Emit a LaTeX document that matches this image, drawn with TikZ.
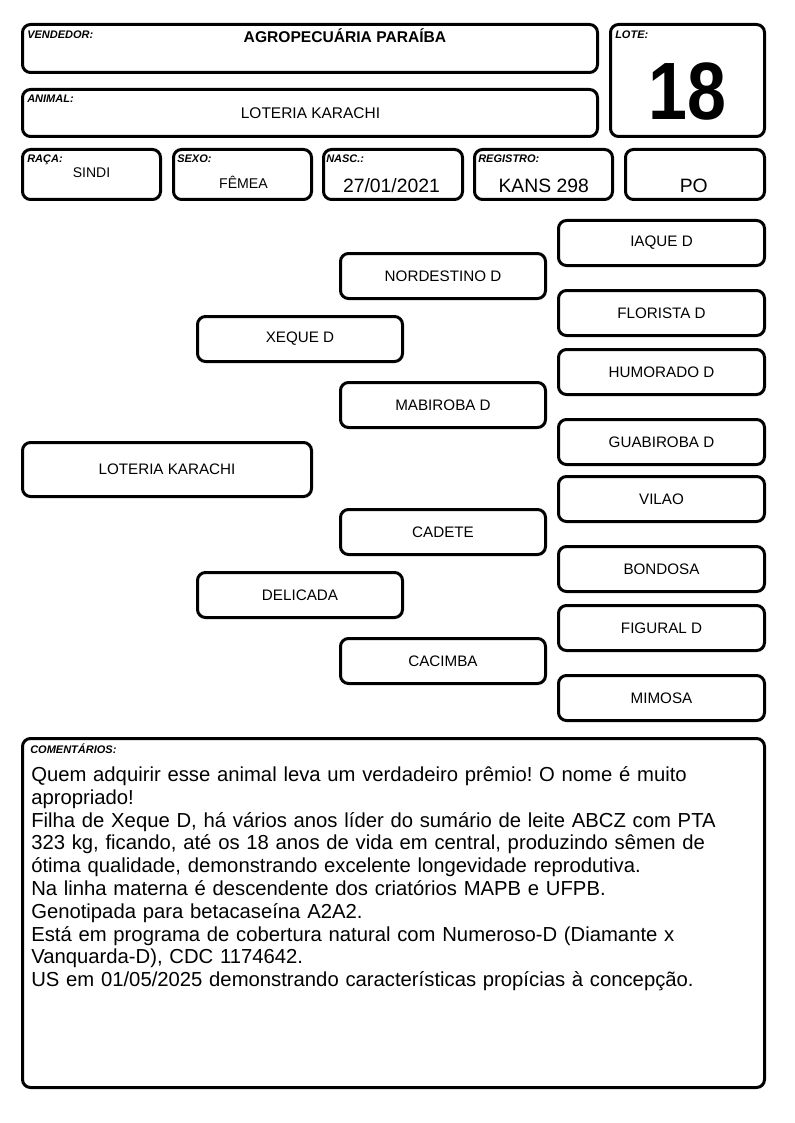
\documentclass[tikz,border=0pt]{standalone}
\usepackage{fontspec}
\setmainfont{Liberation Sans}
\usepackage{graphicx}
\frenchspacing
\begin{document}
\begin{tikzpicture}[x=0.75pt,y=-0.75pt,
  box/.style={draw, line width=2.25pt, rounded corners=6pt, inner sep=0pt},
  lbl/.style={font=\fontsize{8.25pt}{9pt}\selectfont\bfseries\itshape, anchor=base west, inner sep=0pt},
  val/.style={font=\fontsize{11.6pt}{13pt}\selectfont, anchor=base, inner sep=0pt},
  bigval/.style={font=\fontsize{14.5pt}{16pt}\selectfont, anchor=base, inner sep=0pt},
  ped/.style={box, font=\fontsize{11.4pt}{13pt}\selectfont, minimum height=45*0.75pt},
  rcol/.style={ped, minimum width=206*0.75pt},
  mcol/.style={ped, minimum width=205*0.75pt},
]
\useasboundingbox (0,0) rectangle (794,1123);
\fill[white] (0,0) rectangle (794,1123);

% header boxes
\node[box, minimum width=575*0.75pt, minimum height=48*0.75pt] (vend) at (310,48.5) {};
\node[box, minimum width=154*0.75pt, minimum height=112*0.75pt] (lote) at (687.5,80.5) {};
\node[box, minimum width=575*0.75pt, minimum height=47*0.75pt] (anim) at (310,113) {};
\node[box, minimum width=138*0.75pt, minimum height=50*0.75pt] (raca) at (91.5,174.5) {};
\node[box, minimum width=138*0.75pt, minimum height=50*0.75pt] (sexo) at (242.5,174.5) {};
\node[box, minimum width=139*0.75pt, minimum height=50*0.75pt] (nasc) at (393,174.5) {};
\node[box, minimum width=138*0.75pt, minimum height=50*0.75pt] (regi) at (543.5,174.5) {};
\node[box, minimum width=139*0.75pt, minimum height=50*0.75pt] (cat) at (695,174.5) {};

% labels
\node[lbl] (vendl) at (27,39) {VENDEDOR:};
\node[lbl] (lotel) at (615,39) {LOTE:};
\node[lbl] (animl) at (27,103) {ANIMAL:};
\node[lbl] (racal) at (27,163) {RAÇA:};
\node[lbl] (sexol) at (177,163) {SEXO:};
\node[lbl] (nascl) at (326,163) {NASC.:};
\node[lbl] (regil) at (478,163) {REGISTRO:};

% values
\node[val, font=\fontsize{11.7pt}{13pt}\selectfont\bfseries] (vendv) at (345,43) {AGROPECUÁRIA PARAÍBA};
\node[val] (animv) at (310.5,119) {LOTERIA KARACHI};
\node[val, font=\fontsize{10.5pt}{12pt}\selectfont] (racav) at (91.5,178) {SINDI};
\node[val, font=\fontsize{10.6pt}{12pt}\selectfont] (sexov) at (243.5,189) {FÊMEA};
\node[bigval] (nascv) at (391.5,193) {27/01/2021};
\node[bigval] (regiv) at (543.7,193) {KANS 298};
\node[bigval] (catv) at (693.8,193) {PO};
\node[anchor=base, inner sep=0pt] (lotev) at (687.5,120) {\scalebox{0.86}[1]{\fontsize{61pt}{61pt}\selectfont\bfseries 18}};

% pedigree
\node[box, font=\fontsize{11.4pt}{13pt}\selectfont, minimum width=289*0.75pt, minimum height=54*0.75pt] (an) at (167,469.5) {LOTERIA KARACHI};
\node[mcol] (pai) at (300,339) {XEQUE D};
\node[mcol] (mae) at (300,595) {DELICADA};
\node[mcol] (avp1) at (443,276) {NORDESTINO D};
\node[mcol] (avp2) at (443,405) {MABIROBA D};
\node[mcol] (avm1) at (443,532) {CADETE};
\node[mcol] (avm2) at (443,661) {CACIMBA};
\node[rcol] (b1) at (661.5,243) {IAQUE D};
\node[rcol] (b2) at (661.5,313) {FLORISTA D};
\node[rcol] (b3) at (661.5,372) {HUMORADO D};
\node[rcol] (b4) at (661.5,442) {GUABIROBA D};
\node[rcol] (b5) at (661.5,499) {VILAO};
\node[rcol] (b6) at (661.5,569) {BONDOSA};
\node[rcol] (b7) at (661.5,628) {FIGURAL D};
\node[rcol] (b8) at (661.5,698) {MIMOSA};

% comments
\node[box, minimum width=742*0.75pt, minimum height=349*0.75pt] (com) at (393.5,913) {};
\node[lbl] (coml) at (30,753) {COMENTÁRIOS:};
\node[anchor=base west, inner sep=0pt, text width=740*0.75pt, align=left,
      font=\fontsize{15.2pt}{17.1pt}\selectfont] (comt) at (31,781.5)
{Quem adquirir esse animal leva um verdadeiro prêmio! O nome é muito\\
apropriado!\\
Filha de Xeque D, há vários anos líder do sumário de leite ABCZ com PTA\\
323 kg, ficando, até os 18 anos de vida em central, produzindo sêmen de\\
ótima qualidade, demonstrando excelente longevidade reprodutiva.\\
Na linha materna é descendente dos criatórios MAPB e UFPB.\\
Genotipada para betacaseína A2A2.\\
Está em programa de cobertura natural com Numeroso-D (Diamante x\\
Vanquarda-D), CDC 1174642.\\
US em 01/05/2025 demonstrando características propícias à concepção.};
\end{tikzpicture}
\end{document}
